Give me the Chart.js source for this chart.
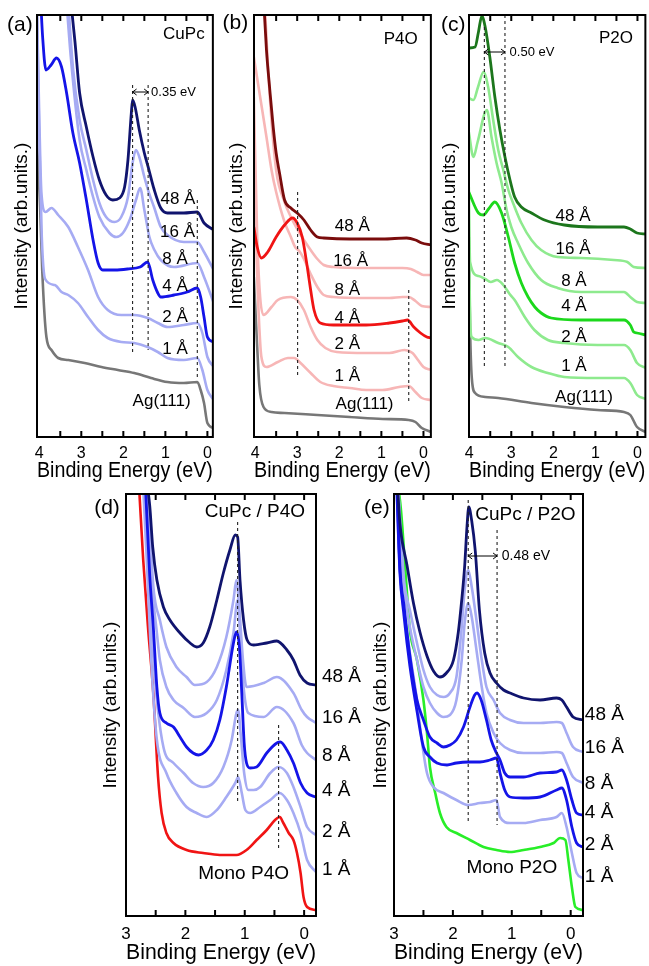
<!DOCTYPE html>
<html>
<head>
<meta charset="utf-8">
<script src="https://cdn.jsdelivr.net/npm/chart.js@4.4.1/dist/chart.umd.min.js"></script>
<style>
  html, body { margin: 0; padding: 0; background: #fff; }
  body { width: 649px; height: 966px; position: relative; overflow: hidden; }
  canvas { position: absolute; }
</style>
</head>
<body>
<canvas id="pa" width="219" height="484" style="left:0;top:0"></canvas>
<canvas id="pb" width="216" height="484" style="left:219px;top:0"></canvas>
<canvas id="pc" width="214" height="484" style="left:435px;top:0"></canvas>
<canvas id="pd" width="273" height="484" style="left:90px;top:482px"></canvas>
<canvas id="pe" width="286" height="484" style="left:363px;top:482px"></canvas>
<script>
'use strict';

/* ---------- data: [binding energy (eV), intensity (arb.)] ---------- */
const TICKS4 = [0, 0.5, 1, 1.5, 2, 2.5, 3, 3.5, 4];
const TICKS3 = [0, 0.5, 1, 1.5, 2, 2.5, 3];

// (a) CuPc on Ag(111)
const a48 = [[3.26,440],[3.15,395],[3.04,344],[2.88,310],[2.72,280],[2.57,257],[2.41,242],[2.25,237],[2.09,239],[1.97,250],[1.89,277],[1.81,324],[1.78,337],[1.72,330],[1.62,307],[1.50,284],[1.39,267],[1.27,248],[1.11,229],[0.95,224],[0.56,224],[0.24,225],[0.08,214],[-0.15,207]];
const a16 = [[3.32,440],[3.20,370],[3.04,317],[2.88,287],[2.72,257],[2.57,234],[2.41,220],[2.21,215],[2.05,220],[1.89,240],[1.78,274],[1.70,287],[1.62,280],[1.50,260],[1.39,244],[1.27,230],[1.11,210],[0.95,202],[0.56,195],[0.24,195],[0.08,185],[-0.15,167]];
const a8  = [[3.36,440],[3.25,380],[3.04,297],[2.88,267],[2.72,240],[2.57,220],[2.33,204],[2.17,200],[2.01,204],[1.85,217],[1.70,237],[1.60,249],[1.50,227],[1.38,200],[1.26,187],[1.11,177],[0.79,170],[0.24,174],[0.08,160],[-0.15,134]];
const a4  = [[3.97,440],[3.92,400],[3.84,367],[3.72,372],[3.59,379],[3.47,370],[3.35,344],[3.20,304],[3.04,274],[2.88,237],[2.72,197],[2.60,174],[2.49,167],[2.20,167],[1.90,168],[1.60,170],[1.42,175],[1.30,157],[1.18,144],[1.11,140],[0.79,142],[0.48,145],[0.24,149],[0.16,140],[0.08,120],[0.00,100],[-0.15,95]];
const a2  = [[4.06,440],[4.00,320],[3.95,245],[3.85,225],[3.71,229],[3.55,222],[3.31,210],[3.08,190],[2.84,167],[2.60,140],[2.37,127],[2.05,122],[1.74,122],[1.42,119],[1.18,114],[0.95,110],[0.56,112],[0.24,114],[0.12,104],[0.00,80],[-0.15,70]];
const a1  = [[4.06,440],[4.00,300],[3.94,200],[3.86,158],[3.63,152],[3.47,145],[3.31,142],[3.08,134],[2.84,120],[2.60,107],[2.37,99],[2.05,95],[1.74,94],[1.42,90],[1.18,85],[0.95,79],[0.56,77],[0.24,79],[0.12,67],[0.00,47],[-0.15,37]];
const aAg = [[4.06,300],[3.98,230],[3.93,167],[3.83,100],[3.71,87],[3.55,79],[3.31,77],[2.92,74],[2.52,70],[2.13,67],[1.74,64],[1.34,59],[0.95,55],[0.56,54],[0.24,55],[0.16,47],[0.08,34],[0.00,14],[-0.15,9]];

// (b) P4O on Ag(111)
const b48 = [[3.80,440],[3.73,387],[3.65,347],[3.57,310],[3.50,284],[3.42,264],[3.30,237],[3.15,229],[3.00,224],[2.84,217],[2.68,207],[2.52,200],[2.37,199],[1.75,198],[0.97,198],[0.40,199],[0.19,197],[0.04,194],[-0.18,192]];
const b16 = [[3.78,440],[3.65,340],[3.50,267],[3.30,235],[3.15,220],[3.00,208],[2.84,197],[2.68,187],[2.52,178],[2.37,172],[2.14,170],[1.36,169],[0.81,169],[0.50,169],[0.30,168],[0.15,165],[0.00,162],[-0.18,162]];
const b8  = [[4.03,380],[3.88,340],[3.73,300],[3.61,267],[3.50,245],[3.30,215],[3.15,200],[3.05,190],[2.95,186],[2.84,178],[2.68,163],[2.52,150],[2.37,142],[2.14,140],[1.36,139],[0.81,139],[0.50,140],[0.35,140],[0.19,136],[0.04,131],[-0.18,130]];
const b4  = [[4.03,210],[3.95,190],[3.85,179],[3.70,185],[3.50,200],[3.30,212],[3.11,219],[3.00,214],[2.88,200],[2.76,170],[2.68,147],[2.60,127],[2.45,114],[2.14,112],[1.36,112],[0.81,114],[0.50,116],[0.38,117],[0.23,110],[0.07,104],[-0.08,100],[-0.18,99]];
const b2  = [[4.03,340],[3.95,200],[3.88,140],[3.80,122],[3.61,130],[3.46,137],[3.15,140],[3.00,137],[2.84,127],[2.68,110],[2.52,97],[2.33,89],[2.06,85],[1.36,84],[0.81,84],[0.45,87],[0.26,84],[0.13,77],[0.00,70],[-0.18,67]];
const b1  = [[4.03,280],[3.95,160],[3.88,95],[3.85,80],[3.73,70],[3.46,75],[3.22,79],[3.07,79],[2.92,74],[2.68,64],[2.45,55],[2.14,51],[1.75,49],[1.36,47],[0.97,47],[0.58,50],[0.35,51],[0.19,45],[0.04,39],[-0.18,37]];
const bAg = [[4.03,160],[3.95,90],[3.90,52],[3.80,30],[3.61,25],[3.30,24],[2.52,22],[1.75,20],[0.97,18],[0.35,17],[0.19,15],[0.04,9],[-0.18,5]];

// (c) P2O on Ag(111)
const c48 = [[4.01,389],[3.86,390],[3.78,405],[3.70,421],[3.62,410],[3.51,380],[3.39,340],[3.27,307],[3.15,280],[3.03,257],[2.92,240],[2.76,230],[2.52,224],[2.21,217],[1.74,212],[0.95,210],[0.32,210],[0.17,208],[0.01,204],[-0.20,203]];
const c16 = [[4.01,339],[3.90,337],[3.79,350],[3.66,365],[3.55,350],[3.43,317],[3.31,287],[3.19,267],[3.07,247],[2.92,230],[2.76,214],[2.52,197],[2.29,187],[1.90,180],[1.34,179],[0.56,177],[0.24,175],[0.09,170],[-0.20,169]];
const c8  = [[4.01,305],[3.90,280],[3.80,295],[3.58,327],[3.47,300],[3.35,274],[3.23,254],[3.11,227],[3.00,210],[2.84,194],[2.60,174],[2.29,157],[1.90,149],[1.34,145],[0.32,145],[0.17,140],[0.01,135],[-0.20,134]];
const c4  = [[4.01,245],[3.78,224],[3.66,222],[3.54,228],[3.39,235],[3.23,224],[3.07,200],[2.92,174],[2.76,154],[2.60,140],[2.44,130],[2.29,124],[2.05,119],[1.34,117],[0.32,117],[0.17,112],[0.09,105],[0.01,104],[-0.20,102]];
const c2  = [[4.01,250],[3.98,175],[3.78,161],[3.62,158],[3.49,155],[3.34,157],[3.19,152],[3.04,143],[2.92,137],[2.68,120],[2.45,107],[2.13,97],[1.74,94],[0.95,92],[0.32,92],[0.17,87],[0.01,74],[-0.20,69]];
const c1  = [[4.01,200],[3.97,110],[3.94,100],[3.78,97],[3.62,99],[3.31,94],[3.07,90],[2.84,80],[2.52,70],[2.13,64],[1.74,60],[0.95,59],[0.32,59],[0.17,54],[0.01,42],[-0.20,38]];
const cAg = [[4.01,200],[3.98,110],[3.94,60],[3.86,44],[3.62,40],[3.31,39],[2.52,34],[1.74,30],[0.95,27],[0.32,25],[0.17,22],[0.01,10],[-0.20,5]];

// (d) CuPc on P4O monolayer
const d48 = [[2.66,440],[2.60,410],[2.55,369],[2.48,336],[2.37,309],[2.26,296],[2.09,283],[1.92,273],[1.81,269],[1.70,273],[1.59,289],[1.47,316],[1.36,343],[1.25,366],[1.16,381],[1.12,379],[1.08,336],[1.02,296],[0.96,276],[0.85,271],[0.63,273],[0.46,275],[0.29,266],[0.18,256],[0.07,241],[-0.05,233],[-0.20,231]];
const d16 = [[2.64,440],[2.54,330],[2.43,296],[2.32,269],[2.15,249],[1.98,239],[1.84,231],[1.64,234],[1.47,249],[1.31,279],[1.19,316],[1.14,336],[1.09,306],[1.03,256],[0.97,229],[0.68,233],[0.46,239],[0.18,223],[0.04,206],[-0.05,199],[-0.20,193]];
const d8  = [[2.66,440],[2.56,330],[2.48,283],[2.43,256],[2.32,229],[2.20,216],[2.03,208],[1.84,199],[1.64,203],[1.47,216],[1.31,246],[1.19,283],[1.12,316],[1.07,273],[1.02,229],[0.94,203],[0.68,199],[0.46,209],[0.18,193],[0.04,171],[-0.05,163],[-0.20,156]];
const d4  = [[2.68,440],[2.60,340],[2.54,289],[2.48,229],[2.43,203],[2.32,193],[2.20,189],[2.09,179],[1.98,169],[1.87,163],[1.78,161],[1.64,166],[1.53,176],[1.42,196],[1.31,229],[1.19,273],[1.14,284],[1.09,269],[1.05,223],[1.01,173],[0.97,153],[0.91,148],[0.80,149],[0.63,163],[0.46,173],[0.40,174],[0.29,166],[0.18,153],[0.06,133],[-0.05,123],[-0.20,119]];
const d2  = [[2.70,440],[2.62,356],[2.54,260],[2.37,169],[2.20,153],[2.03,143],[1.87,133],[1.70,129],[1.53,133],[1.36,149],[1.22,176],[1.14,203],[1.11,206],[1.07,183],[1.01,143],[0.94,126],[0.85,126],[0.74,129],[0.57,143],[0.43,149],[0.29,143],[0.18,129],[0.06,109],[-0.05,89],[-0.20,81]];
const d1  = [[2.72,440],[2.65,356],[2.57,250],[2.48,176],[2.32,143],[2.15,123],[1.98,109],[1.81,103],[1.64,99],[1.47,106],[1.31,119],[1.16,133],[1.11,139],[1.05,123],[0.99,106],[0.91,103],[0.74,109],[0.57,116],[0.41,123],[0.29,116],[0.18,103],[0.06,83],[-0.05,56],[-0.20,44]];
const dMono = [[2.79,440],[2.71,356],[2.63,289],[2.54,223],[2.46,139],[2.40,103],[2.32,83],[2.20,73],[1.98,66],[1.70,63],[1.42,61],[1.14,61],[0.97,66],[0.80,76],[0.63,86],[0.49,96],[0.41,99],[0.35,93],[0.26,83],[0.18,76],[0.12,63],[0.06,43],[0.01,19],[-0.05,9],[-0.20,6]];

// (e) CuPc on P2O monolayer
const e48 = [[2.95,440],[2.90,393],[2.78,351],[2.67,313],[2.56,284],[2.44,260],[2.33,245],[2.22,239],[2.11,243],[1.99,256],[1.91,283],[1.85,316],[1.80,350],[1.76,390],[1.73,409],[1.68,395],[1.62,365],[1.55,306],[1.46,263],[1.37,243],[1.26,233],[1.14,226],[1.03,223],[0.80,218],[0.52,216],[0.24,218],[0.15,216],[0.07,209],[-0.04,199],[-0.21,196]];
const e16 = [[2.94,440],[2.88,380],[2.83,336],[2.73,306],[2.61,273],[2.50,246],[2.39,229],[2.27,221],[2.16,219],[2.05,223],[1.94,239],[1.85,289],[1.80,326],[1.74,346],[1.68,329],[1.60,296],[1.51,256],[1.43,229],[1.31,216],[1.20,203],[1.03,196],[0.80,193],[0.52,193],[0.24,194],[0.15,193],[0.07,183],[-0.04,169],[-0.21,164]];
const e8  = [[2.94,440],[2.88,370],[2.83,330],[2.73,289],[2.61,256],[2.50,229],[2.39,213],[2.27,203],[2.16,199],[2.05,201],[1.94,216],[1.85,256],[1.80,293],[1.74,313],[1.68,299],[1.60,266],[1.51,229],[1.43,203],[1.31,183],[1.20,173],[1.03,166],[0.80,163],[0.52,163],[0.24,164],[0.15,163],[0.07,153],[-0.04,139],[-0.21,133]];
const e4  = [[2.95,440],[2.90,350],[2.83,310],[2.73,260],[2.61,216],[2.50,196],[2.39,179],[2.27,173],[2.16,169],[2.05,171],[1.94,176],[1.82,189],[1.71,209],[1.63,221],[1.59,223],[1.52,216],[1.43,196],[1.35,176],[1.26,163],[1.20,156],[1.12,143],[1.03,139],[0.80,139],[0.52,143],[0.24,144],[0.15,146],[0.07,136],[-0.02,116],[-0.10,103],[-0.21,101]];
const e2  = [[2.96,440],[2.90,345],[2.83,300],[2.73,250],[2.61,205],[2.50,169],[2.39,159],[2.27,153],[2.10,151],[1.94,153],[1.74,154],[1.54,154],[1.37,156],[1.26,158],[1.20,143],[1.12,126],[1.03,119],[0.80,118],[0.52,119],[0.24,126],[0.15,128],[0.07,116],[-0.02,89],[-0.10,73],[-0.21,69]];
const e1  = [[2.96,440],[2.90,340],[2.83,306],[2.73,263],[2.61,216],[2.53,176],[2.44,143],[2.33,129],[2.16,123],[1.94,116],[1.74,111],[1.54,113],[1.37,114],[1.26,116],[1.20,99],[1.03,93],[0.80,93],[0.52,96],[0.24,99],[0.15,103],[0.07,89],[-0.02,63],[-0.10,43],[-0.21,38]];
const eMono = [[2.95,440],[2.88,405],[2.80,340],[2.73,286],[2.61,256],[2.50,216],[2.44,183],[2.39,149],[2.30,123],[2.22,103],[2.11,89],[1.94,83],[1.71,76],[1.48,69],[1.26,66],[1.03,64],[0.80,66],[0.52,69],[0.29,73],[0.18,78],[0.09,76],[0.04,56],[-0.02,29],[-0.08,9],[-0.21,6]];

/* ---------- look ---------- */
const FONT = "'Liberation Sans', Arial, Helvetica, sans-serif";
const COL = {
    navy: '#10146e', light: '#a6abf3', blue: '#1414e8', gray: '#777777',
    maroon: '#7a0c0c', pink: '#f7b6b6', red: '#f01414',
    dgreen: '#1c761c', lgreen: '#8eea8e', green: '#1cd81c', mono: '#28ee28'
};

Chart.defaults.font.family = FONT;
Chart.defaults.color = '#000';

function line(points, color, width) {
    return {
        data: points.map(([x, y]) => ({ x, y })),
        borderColor: color,
        borderWidth: width || 2.6,
        pointRadius: 0,
        fill: false,
        cubicInterpolationMode: 'monotone'
    };
}

/* frame, inward ticks, dashed guides, arrows and labels */
const decor = {
    id: 'decor',
    afterDatasetsDraw(chart, args, o) {
        const { ctx, chartArea: a, scales: { x, y } } = chart;
        ctx.save();

        ctx.strokeStyle = '#222';
        ctx.lineWidth = 1.1;
        ctx.setLineDash([3, 3]);
        (o.dashes || []).forEach(([e, v1, v2]) => {
            const px = x.getPixelForValue(e);
            ctx.beginPath();
            ctx.moveTo(px, y.getPixelForValue(v1));
            ctx.lineTo(px, y.getPixelForValue(v2));
            ctx.stroke();
        });
        ctx.setLineDash([]);

        ctx.strokeStyle = '#000';
        ctx.lineWidth = 1;
        (o.arrows || []).forEach(([e1, e2, v]) => {
            const x1 = x.getPixelForValue(e1), x2 = x.getPixelForValue(e2), py = y.getPixelForValue(v);
            ctx.beginPath();
            ctx.moveTo(x1, py); ctx.lineTo(x2, py);
            ctx.moveTo(x1 + 4, py - 3); ctx.lineTo(x1, py); ctx.lineTo(x1 + 4, py + 3);
            ctx.moveTo(x2 - 4, py - 3); ctx.lineTo(x2, py); ctx.lineTo(x2 - 4, py + 3);
            ctx.stroke();
        });

        ctx.lineWidth = 2;
        ctx.strokeRect(a.left, a.top, a.right - a.left, a.bottom - a.top);
        o.ticks.forEach(v => {
            const px = x.getPixelForValue(v);
            if (px < a.left + 3 || px > a.right - 3) return;
            ctx.beginPath();
            ctx.moveTo(px, a.top); ctx.lineTo(px, a.top + 6);
            ctx.moveTo(px, a.bottom); ctx.lineTo(px, a.bottom - 6);
            ctx.stroke();
        });

        ctx.fillStyle = '#000';
        ctx.textBaseline = 'middle';
        (o.texts || []).forEach(([t, e, v, align, size]) => {
            ctx.font = `${size}px ${FONT}`;
            ctx.textAlign = align;
            ctx.fillText(t, x.getPixelForValue(e), y.getPixelForValue(v));
        });
        ctx.restore();
    }
};

function makePanel(id, p, datasets, notes) {
    return new Chart(document.getElementById(id), {
        type: 'line',
        data: { datasets },
        plugins: [decor],
        options: {
            responsive: false,
            animation: false,
            devicePixelRatio: 1,
            events: [],
            layout: { padding: { left: 0, top: p.padTop, right: p.padRight, bottom: 0 } },
            plugins: { legend: { display: false }, tooltip: { enabled: false }, decor: notes },
            scales: {
                x: {
                    type: 'linear', reverse: true, min: p.xmin, max: p.xmax,
                    grid: { display: false, drawTicks: false }, border: { display: false },
                    ticks: { stepSize: 1, includeBounds: false, padding: p.tickPad, color: '#000',
                             font: { size: p.tickSize }, maxRotation: 0, callback: v => String(v) },
                    title: { display: true, text: 'Binding Energy (eV)', color: '#000',
                             font: { size: 22 }, padding: { top: 0, bottom: p.titlePadB } },
                    afterFit: s => { s.height = p.xH; }
                },
                y: {
                    type: 'linear', min: 0, max: 422,
                    grid: { display: false, drawTicks: false }, border: { display: false },
                    ticks: { display: false },
                    title: { display: true, text: 'Intensity (arb.units.)', color: '#000',
                             font: { size: 19 }, padding: { top: p.yTitlePad, bottom: 0 } },
                    afterFit: s => { s.width = p.yW; }
                }
            }
        }
    });
}

const TOP = { padTop: 15, xH: 47, tickPad: 7, tickSize: 16, titlePadB: 0 };
const BOT = { padTop: 12, xH: 50, tickPad: 8, tickSize: 17, titlePadB: 0 };

makePanel('pa', { ...TOP, xmin: -0.13, xmax: 4.054, padRight: 5, yW: 37, yTitlePad: 10 },
    [line(a48, COL.navy, 2.8), line(a4, COL.blue, 2.8), line(a16, COL.light), line(a8, COL.light),
     line(a2, COL.light), line(a1, COL.light), line(aAg, COL.gray)],
    {
        ticks: TICKS4,
        dashes: [[1.78, 352, 82], [1.41, 352, 87], [0.24, 237, 60]],
        arrows: [[1.78, 1.41, 345]],
        texts: [['(a)', 4.46, 412, 'center', 21], ['CuPc', 0.56, 403, 'center', 17],
                ['0.35 eV', 1.34, 345, 'left', 13],
                ['48 Å', 0.70, 238, 'center', 17], ['16 Å', 0.71, 205, 'center', 17],
                ['8 Å', 0.77, 178, 'center', 17], ['4 Å', 0.77, 151, 'center', 17],
                ['2 Å', 0.77, 120, 'center', 17], ['1 Å', 0.77, 88, 'center', 17],
                ['Ag(111)', 1.09, 36, 'center', 17]]
    });

makePanel('pb', { ...TOP, xmin: -0.176, xmax: 4.026, padRight: 2, yW: 35, yTitlePad: 6 },
    [line(b48, COL.maroon, 2.8), line(b4, COL.red, 2.8), line(b16, COL.pink), line(b8, COL.pink),
     line(b2, COL.pink), line(b1, COL.pink), line(bAg, COL.gray)],
    {
        ticks: TICKS4,
        dashes: [[2.99, 245, 60], [0.35, 147, 34]],
        texts: [['(b)', 4.47, 414, 'center', 21], ['P4O', 0.54, 398, 'center', 17],
                ['48 Å', 1.69, 211, 'center', 17], ['16 Å', 1.73, 176, 'center', 17],
                ['8 Å', 1.81, 147, 'center', 17], ['4 Å', 1.81, 119, 'center', 17],
                ['2 Å', 1.81, 93, 'center', 17], ['1 Å', 1.81, 61, 'center', 17],
                ['Ag(111)', 1.40, 33, 'center', 17]]
    });

makePanel('pc', { ...TOP, xmin: -0.188, xmax: 4.005, padRight: 2, yW: 34, yTitlePad: 3 },
    [line(c48, COL.dgreen, 2.8), line(c4, COL.green, 2.8), line(c16, COL.lgreen), line(c8, COL.lgreen),
     line(c2, COL.lgreen), line(c1, COL.lgreen), line(cAg, COL.gray)],
    {
        ticks: TICKS4,
        dashes: [[3.64, 410, 69], [3.15, 422, 69]],
        arrows: [[3.64, 3.15, 385]],
        texts: [['(c)', 4.38, 412, 'center', 21], ['P2O', 0.51, 399, 'center', 17],
                ['0.50 eV', 3.04, 385, 'left', 13],
                ['48 Å', 1.53, 221, 'center', 17], ['16 Å', 1.53, 188, 'center', 17],
                ['8 Å', 1.51, 156, 'center', 17], ['4 Å', 1.51, 131, 'center', 17],
                ['2 Å', 1.51, 100, 'center', 17], ['1 Å', 1.51, 71, 'center', 17],
                ['Ag(111)', 1.27, 40, 'center', 17]]
    });

makePanel('pd', { ...BOT, xmin: -0.2, xmax: 3.0, padRight: 47, yW: 36, yTitlePad: 9 },
    [line(d48, COL.navy, 2.8), line(d4, COL.blue, 2.8), line(d16, COL.light), line(d8, COL.light),
     line(d2, COL.light), line(d1, COL.light), line(dMono, COL.red, 2.6)],
    {
        ticks: TICKS3,
        dashes: [[1.12, 394, 114], [0.43, 191, 68]],
        texts: [['(d)', 3.32, 408, 'center', 21], ['CuPc / P4O', 0.83, 404, 'center', 19],
                ['Mono P4O', 1.02, 42, 'center', 19],
                ['48 Å', -0.30, 239, 'left', 19], ['16 Å', -0.30, 198, 'left', 19],
                ['8 Å', -0.30, 160, 'left', 19], ['4 Å', -0.30, 125, 'left', 19],
                ['2 Å', -0.30, 84, 'left', 19], ['1 Å', -0.30, 46, 'left', 19]]
    });

makePanel('pe', { ...BOT, xmin: -0.209, xmax: 3.0, padRight: 66, yW: 31, yTitlePad: 6 },
    [line(e48, COL.navy, 2.8), line(e4, COL.blue, 2.8), line(e2, COL.blue, 2.8), line(e16, COL.light),
     line(e8, COL.light), line(e1, COL.light), line(eMono, COL.mono, 2.6)],
    {
        ticks: TICKS3,
        dashes: [[1.74, 416, 94], [1.25, 386, 91]],
        arrows: [[1.74, 1.25, 360]],
        texts: [['(e)', 3.29, 408, 'center', 21], ['CuPc / P2O', 0.77, 401, 'center', 19],
                ['0.48 eV', 1.17, 360, 'left', 14], ['Mono P2O', 1.0, 48, 'center', 19],
                ['48 Å', -0.24, 201, 'left', 19], ['16 Å', -0.24, 168, 'left', 19],
                ['8 Å', -0.24, 132, 'left', 19], ['4 Å', -0.24, 103, 'left', 19],
                ['2 Å', -0.24, 71, 'left', 19], ['1 Å', -0.24, 39, 'left', 19]]
    });
</script>
</body>
</html>
